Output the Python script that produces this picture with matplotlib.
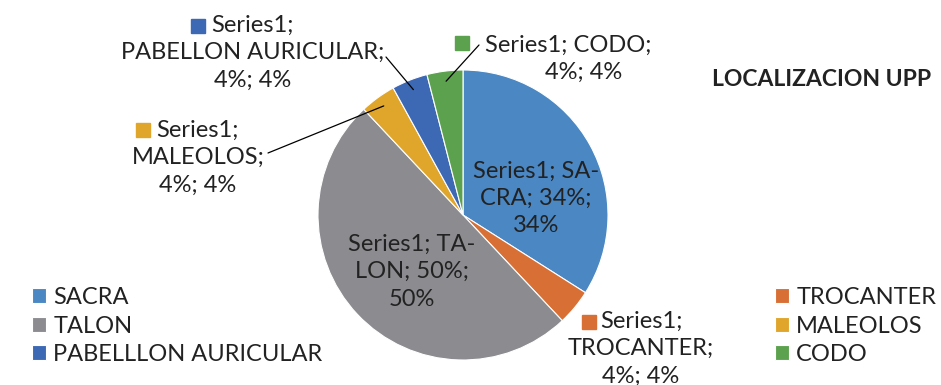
import numpy as np
import matplotlib
matplotlib.use("Agg")
import matplotlib.pyplot as plt

plt.rcParams['font.family'] = ['Lato', 'DejaVu Sans']

# datos de localizacion de UPP
categorias = ['SACRA', 'TROCANTER', 'TALON', 'MALEOLOS', 'PABELLON AURICULAR', 'CODO']
leyenda = ['SACRA', 'TROCANTER', 'TALON', 'MALEOLOS', 'PABELLLON AURICULAR', 'CODO']
valores = [34, 4, 50, 4, 4, 4]
colores = ['#4a87c3', '#d86f34', '#8c8c90', '#e0a62c', '#3c68b4', '#5ca24e']

W, H = 941, 385
fig = plt.figure(figsize=(W / 100, H / 100), dpi=100)

def px(x, y):
    return (x / W, 1 - y / H)

cx, cy, r = 463, 215, 145
ax = fig.add_axes([(cx - r) / W, (H - cy - r) / H, 2 * r / W, 2 * r / H])
wedges, _ = ax.pie(valores, colors=colores, startangle=90, counterclock=False,
                   radius=1, wedgeprops=dict(edgecolor='white', linewidth=0.8))
ax.set_xlim(-1, 1)
ax.set_ylim(-1, 1)
ax.set_aspect('equal')
ax.axis('off')

fs = 17
txt = '#222222'
total = sum(valores)

def linea(t, x, y, ha='center'):
    fig.text(*px(x, y), t, ha=ha, va='center', fontsize=fs, color=txt)

def etiqueta(lineas, x, y, lh=27.5):
    for i, t in enumerate(lineas):
        if t:
            linea(t, x, y + i * lh)

def cuadro(i, x, y_base):
    fig.patches.append(plt.Rectangle(px(x, y_base), 14 / W, 14 / H,
                                     transform=fig.transFigure, color=colores[i], figure=fig))

def punto_medio(i, rr=0.93):
    acum = sum(valores[:i]) + valores[i] / 2
    ang = np.deg2rad(90 - 360 * acum / total)
    return (rr * np.cos(ang), rr * np.sin(ang))

def guia(i, x, y):
    ax.annotate('', xy=punto_medio(i), xycoords='data', xytext=px(x, y),
                textcoords='figure fraction',
                arrowprops=dict(arrowstyle='-', color='black', lw=0.9, shrinkA=0, shrinkB=0))

# etiquetas dentro del pastel
etiqueta(['Series1; SA-', 'CRA; 34%;', '34%'], 536, 171)
etiqueta(['Series1; TA-', 'LON; 50%;', '50%'], 412, 244)

# etiquetas fuera del pastel
linea('Series1;', 600, 321, ha='left')
etiqueta(['', 'TROCANTER;', '4%; 4%'], 641, 321)
cuadro(1, 582, 329)

linea('Series1;', 156, 130, ha='left')
etiqueta(['', 'MALEOLOS;', '4%; 4%'], 198, 130)
cuadro(3, 136, 137)
guia(3, 268, 153)

linea('Series1;', 211, 25, ha='left')
etiqueta(['', 'PABELLON AURICULAR;', '4%; 4%'], 253, 25)
cuadro(4, 191, 33)
guia(4, 386, 57)

linea('Series1; CODO;', 485, 45, ha='left')
linea('4%; 4%', 584, 72)
cuadro(5, 455, 50)
guia(5, 479, 45)

# titulo
fig.text(*px(712, 80), 'LOCALIZACION UPP', ha='left', va='center', fontsize=16.5,
         fontweight='bold', color=txt)

# leyendas
izq = [0, 2, 4]
der = [1, 3, 5]
kw = dict(frameon=False, fontsize=fs, handlelength=0.6, handleheight=0.6,
          handletextpad=0.3, labelspacing=0.32, borderpad=0, borderaxespad=0,
          loc='upper left', bbox_transform=fig.transFigure)
for t in fig.legend([wedges[i] for i in izq], [leyenda[i] for i in izq],
                    bbox_to_anchor=px(32, 287), **kw).get_texts():
    t.set_color(txt)
for t in fig.legend([wedges[i] for i in der], [leyenda[i] for i in der],
                    bbox_to_anchor=px(775, 287), **kw).get_texts():
    t.set_color(txt)

fig.savefig('out.png', dpi=100)
